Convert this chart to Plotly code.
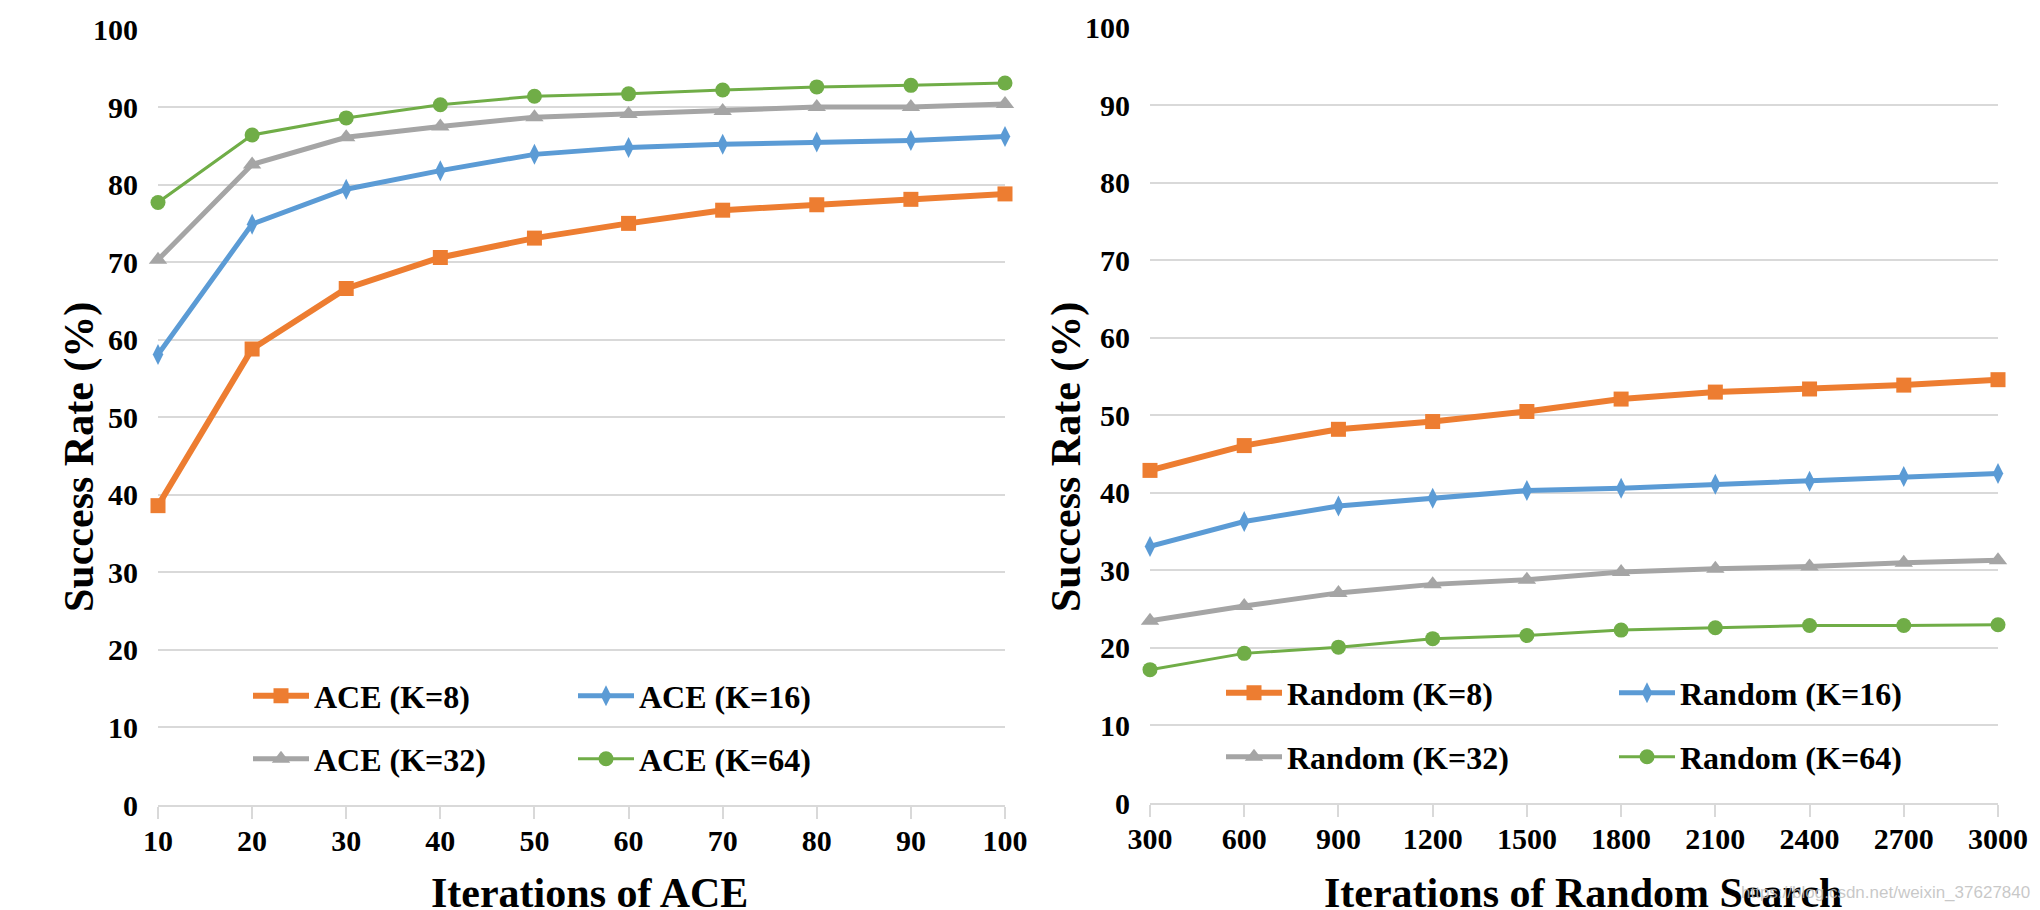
import plotly.graph_objects as go

W, H = 2040, 910

# ---------------- data ----------------
ace_iters = [10, 20, 30, 40, 50, 60, 70, 80, 90, 100]
ace_k8 = [38.6, 58.8, 66.6, 70.6, 73.1, 75.0, 76.7, 77.4, 78.1, 78.8]
ace_k16 = [58.1, 74.9, 79.4, 81.8, 83.9, 84.8, 85.2, 85.5, 85.7, 86.2]
ace_k32 = [70.3, 82.6, 86.1, 87.5, 88.7, 89.1, 89.5, 90.0, 90.0, 90.4]
ace_k64 = [77.7, 86.4, 88.6, 90.3, 91.4, 91.7, 92.2, 92.6, 92.8, 93.1]

rand_iters = [300, 600, 900, 1200, 1500, 1800, 2100, 2400, 2700, 3000]
rand_k8 = [42.9, 46.1, 48.2, 49.2, 50.5, 52.1, 53.0, 53.4, 53.9, 54.6]
rand_k16 = [33.1, 36.3, 38.3, 39.3, 40.3, 40.6, 41.1, 41.5, 42.1, 42.5]
rand_k32 = [23.5, 25.4, 27.1, 28.2, 28.8, 29.8, 30.2, 30.5, 31.0, 31.3]
rand_k64 = [17.2, 19.3, 20.1, 21.2, 21.6, 22.3, 22.6, 22.9, 22.9, 23.0]

y_ticks = [0, 10, 20, 30, 40, 50, 60, 70, 80, 90, 100]

ace_names = ["ACE (K=8)", "ACE (K=16)", "ACE (K=32)", "ACE (K=64)"]
rand_names = ["Random (K=8)", "Random (K=16)", "Random (K=32)", "Random (K=64)"]
x_titles = ["Iterations of ACE", "Iterations of Random Search"]
y_title = "Success Rate (%)"
watermark = "https://blog.csdn.net/weixin_37627840"

# ---------------- styles ----------------
colors = ["#ED7D31", "#5B9BD5", "#A5A5A5", "#70AD47"]
symbols = ["square", "diamond-tall", "triangle-up", "circle"]
msizes = [15, 15, 16, 15]
lwidths = [6, 5, 5, 3]
FONT = "Liberation Serif"
GRID = "#D9D9D9"

def px_x(p):
    return p / W

def px_y(p):
    return (H - p) / H

fig = go.Figure()

series_left = [ace_k8, ace_k16, ace_k32, ace_k64]
series_right = [rand_k8, rand_k16, rand_k32, rand_k64]
legend_ids_left = ["legend", "legend", "legend2", "legend2"]
legend_ids_right = ["legend3", "legend3", "legend4", "legend4"]

for i in range(4):
    fig.add_trace(go.Scatter(
        x=ace_iters, y=series_left[i], name=ace_names[i], mode="lines+markers",
        line=dict(color=colors[i], width=lwidths[i]),
        marker=dict(symbol=symbols[i], size=msizes[i], color=colors[i]),
        xaxis="x", yaxis="y", cliponaxis=False, legend=legend_ids_left[i],
    ))
for i in range(4):
    fig.add_trace(go.Scatter(
        x=rand_iters, y=series_right[i], name=rand_names[i], mode="lines+markers",
        line=dict(color=colors[i], width=lwidths[i]),
        marker=dict(symbol=symbols[i], size=msizes[i], color=colors[i]),
        xaxis="x2", yaxis="y2", cliponaxis=False, legend=legend_ids_right[i],
    ))

tickfont = dict(family=FONT, size=30, color="black", weight="bold")

def xaxis_cfg(domain, vals, anchor):
    return dict(
        domain=domain, anchor=anchor, range=[vals[0], vals[-1]], automargin=False,
        tickmode="array", tickvals=vals, ticktext=[str(v) for v in vals],
        showgrid=False, zeroline=False, showline=True, linecolor=GRID, linewidth=2,
        ticks="outside", ticklen=12, tickwidth=2, tickcolor=GRID,
        tickfont=tickfont, ticklabelstandoff=-4, fixedrange=True,
    )

def yaxis_cfg(domain, anchor):
    return dict(
        domain=domain, anchor=anchor, range=[0, 100], automargin=False,
        tickmode="array", tickvals=y_ticks, ticktext=[str(v) for v in y_ticks],
        showgrid=True, gridcolor=GRID, gridwidth=2, zeroline=False, showline=False,
        ticks="", tickfont=tickfont, ticklabelstandoff=19, fixedrange=True,
    )

legend_common = dict(
    orientation="h", font=dict(family=FONT, size=32, color="black", weight="bold"),
    bgcolor="rgba(0,0,0,0)", borderwidth=0, xanchor="left", yanchor="middle",
    itemwidth=56, entrywidthmode="pixels", tracegroupgap=0, itemclick=False,
    itemdoubleclick=False,
)

fig.update_layout(
    template="none",
    width=W, height=H, margin=dict(l=0, r=0, t=0, b=0, autoexpand=False),
    paper_bgcolor="white", plot_bgcolor="white",
    xaxis=xaxis_cfg([px_x(158), px_x(1005)], ace_iters, "y"),
    yaxis=yaxis_cfg([px_y(805), px_y(29.5)], "x"),
    xaxis2=xaxis_cfg([px_x(1150), px_x(1998)], rand_iters, "y2"),
    yaxis2=yaxis_cfg([px_y(803), px_y(27.7)], "x2"),
    legend=dict(legend_common, x=px_x(248), y=px_y(696), entrywidth=254),
    legend2=dict(legend_common, x=px_x(248), y=px_y(759), entrywidth=254),
    legend3=dict(legend_common, x=px_x(1221), y=px_y(693), entrywidth=322),
    legend4=dict(legend_common, x=px_x(1221), y=px_y(757), entrywidth=322),
    showlegend=True,
)

title_font = dict(family=FONT, size=42, color="black", weight="bold")
annotations = [
    dict(text=x_titles[0], x=px_x(589), y=px_y(893), xref="paper", yref="paper",
         xanchor="center", yanchor="middle", showarrow=False, font=title_font),
    dict(text=x_titles[1], x=px_x(1583), y=px_y(893), xref="paper", yref="paper",
         xanchor="center", yanchor="middle", showarrow=False, font=title_font),
    dict(text=y_title, x=px_x(79), y=px_y(457), xref="paper", yref="paper",
         xanchor="center", yanchor="middle", showarrow=False, textangle=-90, font=title_font),
    dict(text=y_title, x=px_x(1066), y=px_y(457), xref="paper", yref="paper",
         xanchor="center", yanchor="middle", showarrow=False, textangle=-90, font=title_font),
    dict(text=watermark, x=px_x(2032), y=px_y(892), xref="paper", yref="paper",
         xanchor="right", yanchor="middle", showarrow=False,
         font=dict(family="Liberation Sans", size=17, color="rgba(190,190,190,0.85)")),
]
fig.update_layout(annotations=annotations)

fig.write_html("out.html", config={"displayModeBar": False},
               post_script="document.body.style.margin='0';document.body.style.overflow='hidden';")
